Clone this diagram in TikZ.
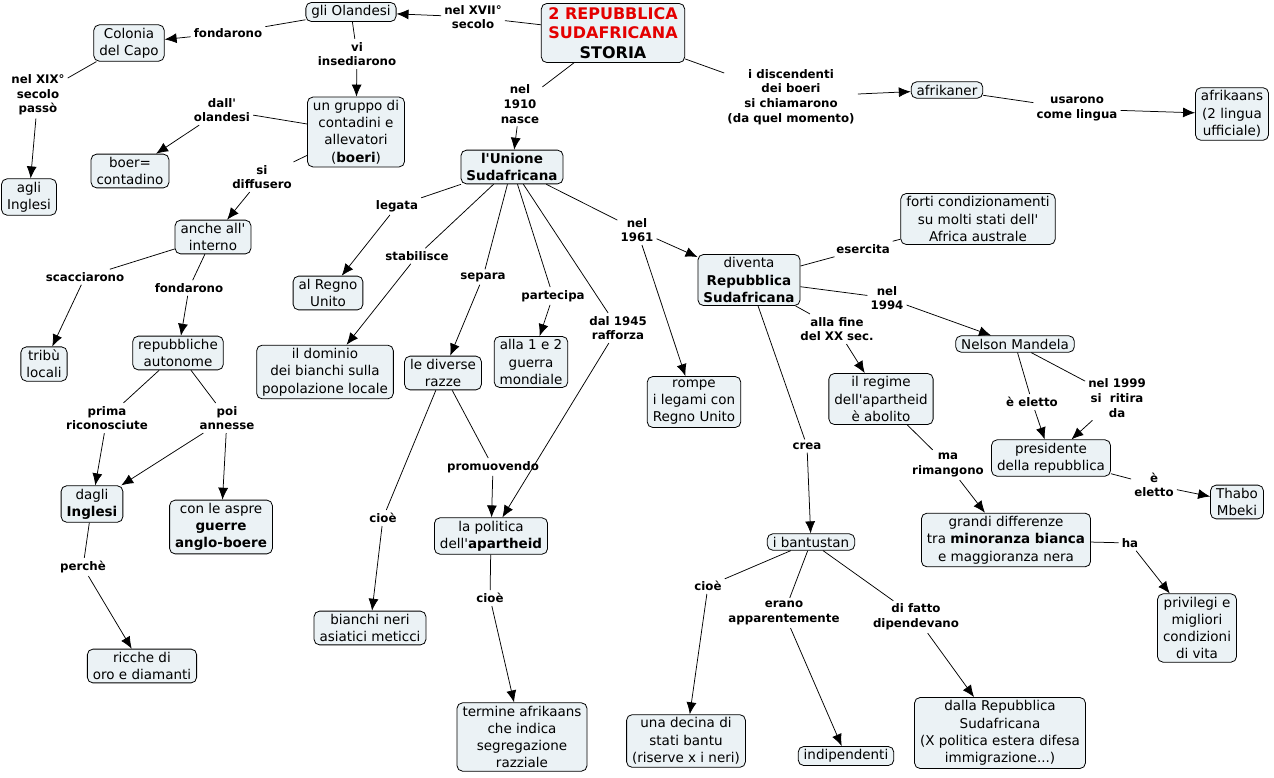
\documentclass[tikz,border=0pt]{standalone}
\usepackage{fontspec}
\setmainfont{DejaVu Sans}[Ligatures=TeXOff]
\usetikzlibrary{arrows.meta}
\definecolor{boxfill}{RGB}{235,242,245}
\definecolor{titlered}{RGB}{228,0,0}
\newcommand\cmapnodefont{\fontsize{13.5}{17.3}\selectfont}
\newcommand\cmaplblfont{\fontsize{11.8}{14.6}\selectfont\bfseries}
\newcommand\cmaptitlefont{\fontsize{16}{19.5}\selectfont\bfseries}
\begin{document}
\begin{tikzpicture}[x=1pt,y=-1pt,
 concept/.style={draw=black,line width=0.8pt,rounded corners=5.5pt,fill=boxfill,align=center,inner xsep=5.5pt,inner ysep=3pt,font=\cmapnodefont},
 lbl/.style={align=center,inner sep=3pt,font=\cmaplblfont},
 ln/.style={line width=0.75pt},
 arr/.style={line width=0.75pt,-{Latex[length=12pt,width=10pt]}}]
\fill[white] (0,0) rectangle (1274,777);
\useasboundingbox (0,0) rectangle (1274,777);

% concepts
\node[concept,font=\cmaptitlefont,inner xsep=7pt,inner ysep=4pt] (title) at (613,33) {\textcolor{titlered}{2 REPUBBLICA}\\\textcolor{titlered}{SUDAFRICANA}\\STORIA};
\node[concept] (olandesi) at (351,12) {gli Olandesi};
\node[concept] (colonia) at (129,43) {Colonia\\del Capo};
\node[concept] (gruppo) at (356,132) {un gruppo di\\contadini e\\allevatori\\(\textbf{boeri})};
\node[concept] (boer) at (130,171) {boer=\\contadino};
\node[concept] (agli) at (29,197) {agli\\Inglesi};
\node[concept] (anche) at (213,237) {anche all'\\interno};
\node[concept] (tribu) at (44,364) {tribù\\locali};
\node[concept] (repub) at (178,353) {repubbliche\\autonome};
\node[concept] (dagli) at (92,504) {dagli\\\textbf{Inglesi}};
\node[concept] (aspre) at (221,527) {con le aspre\\\textbf{guerre}\\\textbf{anglo-boere}};
\node[concept] (ricche) at (142,666) {ricche di\\oro e diamanti};
\node[concept,font=\cmapnodefont\bfseries] (unione) at (512,167) {l'Unione\\Sudafricana};
\node[concept] (regno) at (328,293) {al Regno\\Unito};
\node[concept] (dominio) at (325,372) {il dominio\\dei bianchi sulla\\popolazione locale};
\node[concept] (razze) at (443,373) {le diverse\\razze};
\node[concept] (guerra) at (531,362) {alla 1 e 2\\guerra\\mondiale};
\node[concept] (rompe) at (694,402) {rompe\\i legami con\\Regno Unito};
\node[concept] (diventa) at (749,280) {diventa\\\textbf{Repubblica}\\\textbf{Sudafricana}};
\node[concept] (forti) at (978,219) {forti condizionamenti\\su molti stati dell'\\Africa australe};
\node[concept] (afrikaner) at (947,90) {afrikaner};
\node[concept] (afrikaans) at (1232,114) {afrikaans\\(2 lingua\\ufficiale)};
\node[concept] (mandela) at (1015,344) {Nelson Mandela};
\node[concept] (regime) at (881,399) {il regime\\dell'apartheid\\è abolito};
\node[concept] (presidente) at (1051,458) {presidente\\della repubblica};
\node[concept] (thabo) at (1237,502) {Thabo\\Mbeki};
\node[concept] (grandi) at (1006,540) {grandi differenze\\tra \textbf{minoranza bianca}\\e maggioranza nera};
\node[concept] (privilegi) at (1197,628) {privilegi e\\migliori\\condizioni\\di vita};
\node[concept] (bantustan) at (811,542) {i bantustan};
\node[concept] (politica) at (491,536) {la politica\\dell'\textbf{apartheid}};
\node[concept] (bianchi) at (370,628) {bianchi neri\\asiatici meticci};
\node[concept] (termine) at (522,737) {termine afrikaans\\che indica\\segregazione\\razziale};
\node[concept] (decina) at (686,741) {una decina di\\stati bantu\\(riserve x i neri)};
\node[concept] (indip) at (846,756) {indipendenti};
\node[concept] (dalla) at (1000,733) {dalla Repubblica\\Sudafricana\\(X politica estera difesa\\immigrazione...)};

% linking phrases
\node[lbl] (l1) at (473,17) {nel XVII°\\secolo};
\node[lbl] (l2) at (228,33) {fondarono};
\node[lbl] (l3) at (357,54) {vi\\insediarono};
\node[lbl] (l4) at (38,95) {nel XIX°\\secolo\\passò};
\node[lbl] (l5) at (222,110) {dall'\\olandesi};
\node[lbl] (l6) at (262,177) {si\\diffusero};
\node[lbl] (l7) at (397,206) {legata};
\node[lbl] (l8) at (417,256) {stabilisce};
\node[lbl] (l9) at (483,277) {separa};
\node[lbl] (l10) at (553,296) {partecipa};
\node[lbl] (l11) at (618,328) {dal 1945\\rafforza};
\node[lbl] (l12) at (637,230) {nel\\1961};
\node[lbl] (l13) at (863,249) {esercita};
\node[lbl] (l14) at (887,298) {nel\\1994};
\node[lbl] (l15) at (837,329) {alla fine\\del XX sec.};
\node[lbl] (l16) at (807,446) {crea};
\node[lbl] (l17) at (948,465) {ma\\rimangono};
\node[lbl] (l18) at (1032,402) {è eletto};
\node[lbl] (l19) at (1117,398) {nel 1999\\si\ \ ritira\\da};
\node[lbl] (l20) at (1154,485) {è\\eletto};
\node[lbl] (l21) at (1130,543) {ha};
\node[lbl] (l22) at (791,97) {i discendenti\\dei boeri\\si chiamarono\\(da quel momento)};
\node[lbl] (l23) at (1077,109) {usarono\\come lingua};
\node[lbl] (l24) at (520,104) {nel\\1910\\nasce};
\node[lbl] (l25) at (85,277) {scacciarono};
\node[lbl] (l26) at (189,288) {fondarono};
\node[lbl] (l27) at (107,418) {prima\\riconosciute};
\node[lbl] (l28) at (227,418) {poi\\annesse};
\node[lbl] (l29) at (83,567) {perchè};
\node[lbl] (l30) at (383,518) {cioè};
\node[lbl] (l31) at (493,467) {promuovendo};
\node[lbl] (l32) at (490,598) {cioè};
\node[lbl] (l33) at (708,586) {cioè};
\node[lbl] (l34) at (784,613) {erano\\apparentemente};
\node[lbl] (l35) at (916,617) {di fatto\\dipendevano};

% connectors
\draw[ln] (title) -- (l1); \draw[arr] (l1) -- (olandesi);
\draw[ln] (olandesi) -- (l2); \draw[arr] (l2) -- (colonia);
\draw[ln] (olandesi) -- (l3); \draw[arr] (l3) -- (gruppo);
\draw[ln] (colonia) -- (l4); \draw[arr] (l4) -- (agli);
\draw[ln] (gruppo) -- (l5); \draw[arr] (l5) -- (boer);
\draw[ln] (gruppo) -- (l6); \draw[arr] (l6) -- (anche);
\draw[ln] (title) -- (l24); \draw[arr] (l24) -- (unione);
\draw[ln] (title) -- (l22); \draw[arr] (l22) -- (afrikaner);
\draw[ln] (afrikaner) -- (l23); \draw[arr] (l23) -- (afrikaans);
\draw[ln] (anche) -- (l25); \draw[arr] (l25) -- (tribu);
\draw[ln] (anche) -- (l26); \draw[arr] (l26) -- (repub);
\draw[ln] (repub) -- (l27); \draw[arr] (l27) -- (dagli);
\draw[ln] (repub) -- (l28); \draw[arr] (l28) -- (dagli); \draw[arr] (l28) -- (aspre);
\draw[ln] (dagli) -- (l29); \draw[arr] (l29) -- (ricche);
\draw[ln] (unione) -- (l7); \draw[arr] (l7) -- (regno);
\draw[ln] (unione) -- (l8); \draw[arr] (l8) -- (dominio);
\draw[ln] (unione) -- (l9); \draw[arr] (l9) -- (razze);
\draw[ln] (unione) -- (l10); \draw[arr] (l10) -- (guerra);
\draw[ln] (unione) -- (l11); \draw[arr] (l11) -- (politica);
\draw[ln] (unione) -- (l12); \draw[arr] (l12) -- (diventa); \draw[arr] (l12) -- (rompe);
\draw[ln] (razze) -- (l30); \draw[arr] (l30) -- (bianchi);
\draw[ln] (razze) -- (l31); \draw[arr] (l31) -- (politica);
\draw[ln] (politica) -- (l32); \draw[arr] (l32) -- (termine);
\draw[ln] (diventa) -- (l13); \draw[ln] (l13) -- (forti);
\draw[ln] (diventa) -- (l14); \draw[arr] (l14) -- (mandela);
\draw[ln] (diventa) -- (l15); \draw[arr] (l15) -- (regime);
\draw[ln] (diventa) -- (l16); \draw[arr] (l16) -- (bantustan);
\draw[ln] (regime) -- (l17); \draw[arr] (l17) -- (grandi);
\draw[ln] (mandela) -- (l18); \draw[arr] (l18) -- (presidente);
\draw[ln] (mandela) -- (l19); \draw[arr] (l19) -- (presidente);
\draw[ln] (presidente) -- (l20); \draw[arr] (l20) -- (thabo);
\draw[ln] (grandi) -- (l21); \draw[arr] (l21) -- (privilegi);
\draw[ln] (bantustan) -- (l33); \draw[arr] (l33) -- (decina);
\draw[ln] (bantustan) -- (l34); \draw[arr] (l34) -- (indip);
\draw[ln] (bantustan) -- (l35); \draw[arr] (l35) -- (dalla);
\end{tikzpicture}
\end{document}
